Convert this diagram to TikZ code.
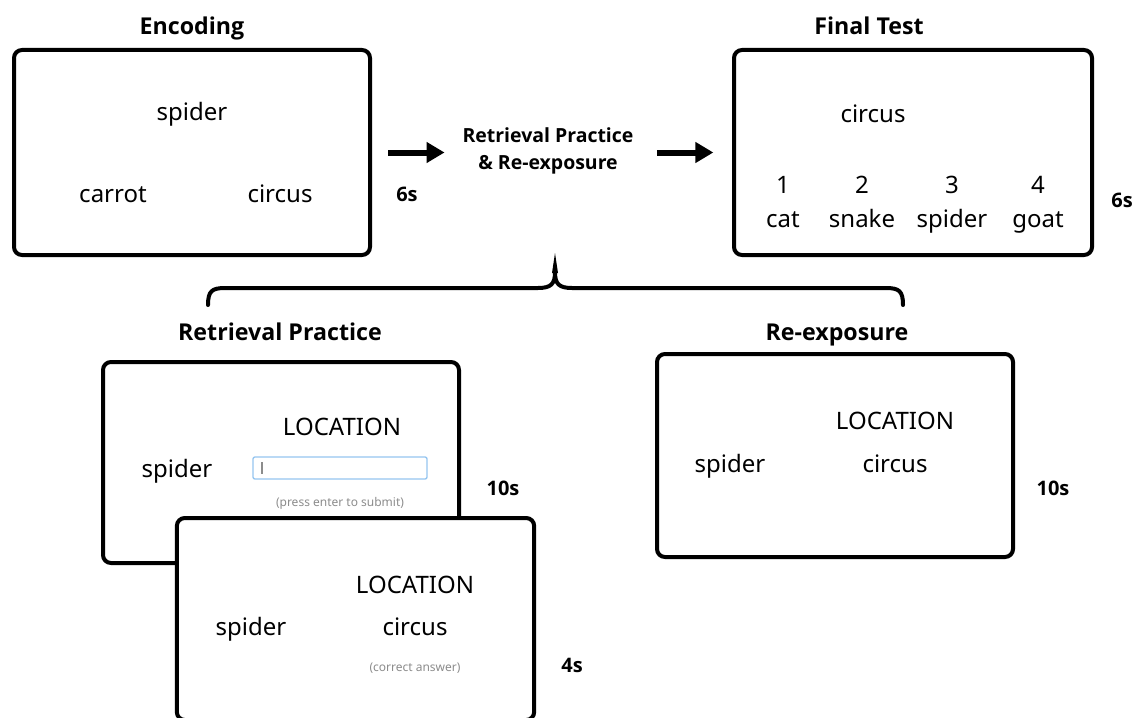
\documentclass[tikz,border=0pt]{standalone}
\usepackage{fontspec}
\setmainfont{Noto Sans}
\newfontfamily\titlefont{Open Sans}
\usetikzlibrary{arrows.meta}

\tikzset{
  screen/.style={draw, line width=3pt, rounded corners=6pt, fill=white, inner sep=0pt},
  word/.style={anchor=base, font=\fontsize{18}{21}\selectfont},
  title/.style={anchor=base, font=\titlefont\bfseries\fontsize{17.4}{20}\selectfont},
  timing/.style={anchor=base, font=\titlefont\bfseries\fontsize{15}{17}\selectfont},
  hint/.style={anchor=base, text=black!45, font=\fontsize{9}{10}\selectfont},
  flow/.style={line width=4.5pt, -{Triangle[length=13.5pt,width=15pt]}},
  brace/.style={line width=3pt, line cap=round}
}

\begin{document}
\begin{tikzpicture}[x=0.75pt,y=-0.75pt]
\useasboundingbox (0,0) rectangle (1134,717);

\node[title] (enctitle) at (192,35) {Encoding};
\node[screen, minimum width=267pt, minimum height=153.75pt] (enc) at (192,152.5) {};
\node[word] (encspider) at (192,120) {spider};
\node[word] (enccarrot) at (113,202) {carrot};
\node[word] (enccircus) at (280,202) {circus};
\node[timing] (enctime) at (407,201) {6s};

\node[align=center, font=\titlefont\bfseries\fontsize{14.6}{20}\selectfont] (mid) at (548,151) {Retrieval Practice\\\& Re-exposure};

\node[title] (fintitle) at (869,35) {Final Test};
\node[screen, minimum width=268.5pt, minimum height=153.75pt] (fin) at (913,152.5) {};
\node[word] (fincircus) at (873,122) {circus};
\node[word] (opt1) at (783,193) {1};
\node[word] (opt2) at (862,193) {2};
\node[word] (opt3) at (952,193) {3};
\node[word] (opt4) at (1038,193) {4};
\node[word] (cat) at (783,227) {cat};
\node[word] (snake) at (862,227) {snake};
\node[word] (spider) at (952,227) {spider};
\node[word] (goat) at (1038,227) {goat};
\node[timing] (fintime) at (1122,207) {6s};

\draw[flow, shorten <=12pt, shorten >=10pt] (enc.east) -- (enc.east -| mid.west);
\draw[flow, shorten <=14pt, shorten >=14pt] (mid.east |- fin.west) -- (fin.west);

\draw[brace] (208,305) .. controls (208,291) and (212,288) .. (225,288) -- (538,288) .. controls (551,288) and (555,284) .. (555,272);
\draw[brace] (903,305) .. controls (903,291) and (899,288) .. (886,288) -- (572,288) .. controls (559,288) and (555,284) .. (555,272);
\fill (552,273) -- (555,253) -- (558,273) -- cycle;

\node[title] (rptitle) at (280,340) {Retrieval Practice};
\node[screen, minimum width=267pt, minimum height=150.75pt] (rp) at (281,462.5) {};
\node[word] (rplocation) at (342,435) {LOCATION};
\node[word] (rpspider) at (177,477) {spider};
\node[draw={rgb,255:red,150;green,198;blue,240}, line width=1pt, rounded corners=1.5pt, minimum width=130.5pt, minimum height=16.5pt, inner sep=0pt] (field) at (340,468) {};
\draw[black!45, line width=0.8pt] (262,462) -- (262,474);
\node[hint] (rphint) at (340,506) {(press enter to submit)};
\node[timing] (rptime) at (503,495) {10s};

\node[screen, minimum width=268pt, minimum height=151.5pt] (fb) at (355.5,619) {};
\node[word] (fblocation) at (415,593) {LOCATION};
\node[word] (fbspider) at (251,635) {spider};
\node[word] (fbcircus) at (415,635) {circus};
\node[hint] (fbhint) at (415,671) {(correct answer)};
\node[timing] (fbtime) at (572,672) {4s};

\node[title] (rextitle) at (837,340) {Re-exposure};
\node[screen, minimum width=267pt, minimum height=152.25pt] (rex) at (835,455.5) {};
\node[word] (rexlocation) at (895,429) {LOCATION};
\node[word] (rexspider) at (730,472) {spider};
\node[word] (rexcircus) at (895,472) {circus};
\node[timing] (rextime) at (1053,495) {10s};
\end{tikzpicture}
\end{document}
